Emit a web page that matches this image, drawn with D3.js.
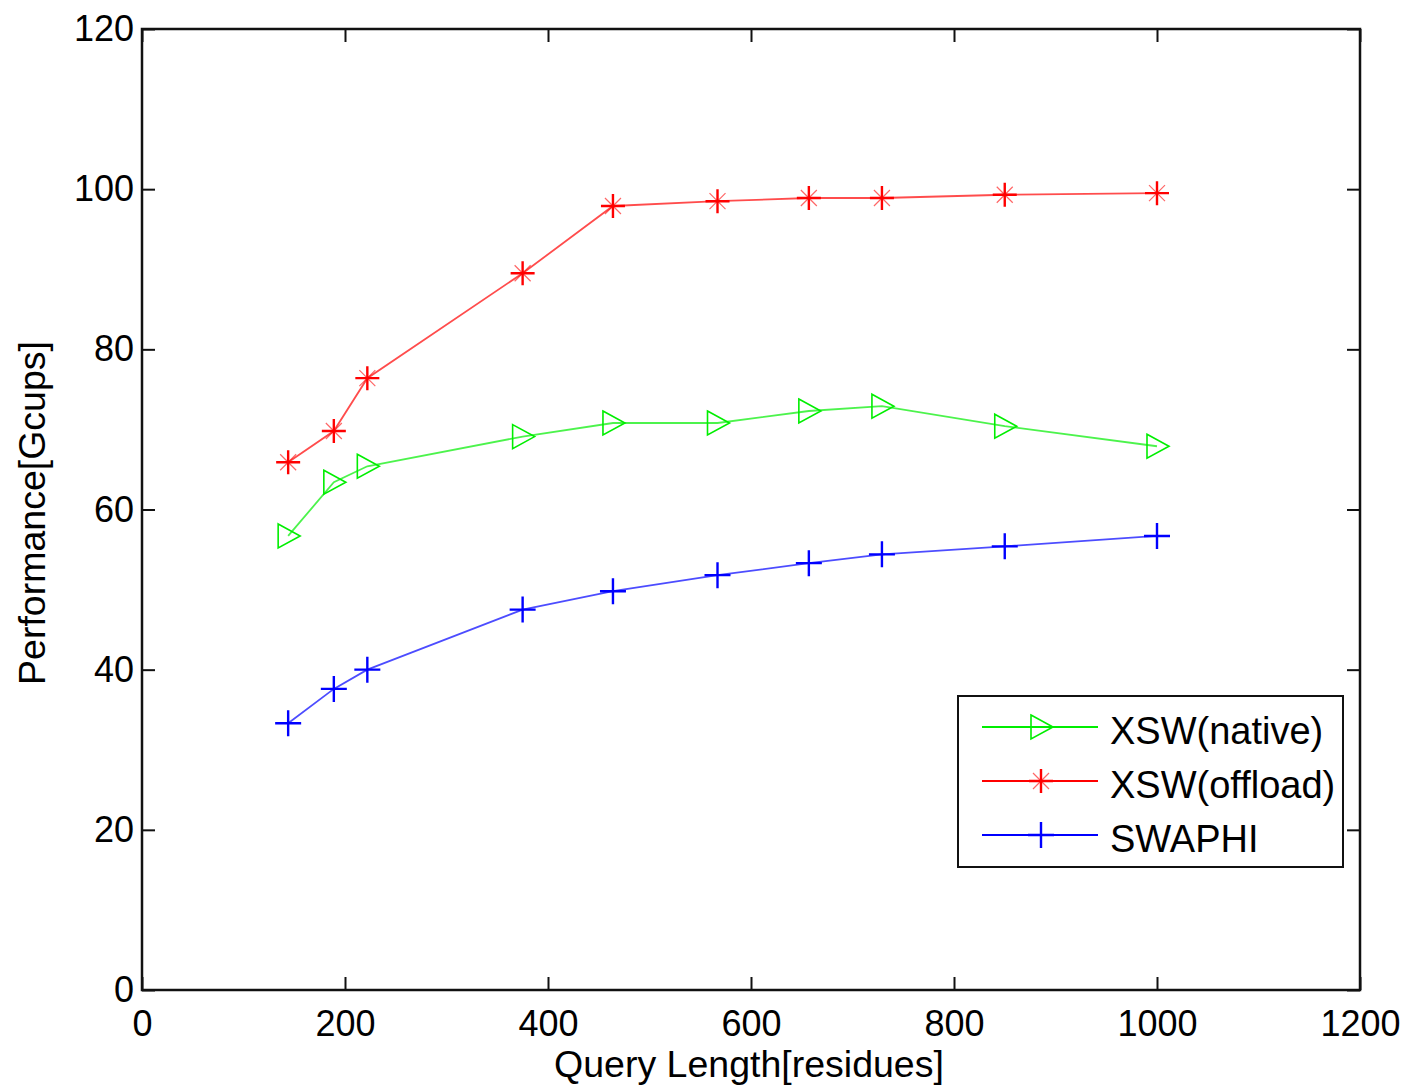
<!DOCTYPE html>
<html>
<head>
<meta charset="utf-8">
<script src="https://cdn.jsdelivr.net/npm/d3@7"></script>
<style>
  html, body { margin: 0; padding: 0; background: #fff; }
  text { font-family: "Liberation Sans", Arial, sans-serif; fill: #000; }
</style>
</head>
<body>
<svg id="chart" width="1408" height="1086"></svg>
<script>
// Query lengths (residues) of the benchmark protein sequences
const queryLengths = [144, 189, 222, 375, 464, 567, 657, 729, 850, 1000];

// Performance in GCUPS
const xswNative  = [56.7, 63.4, 65.4, 69.1, 70.8, 70.8, 72.3, 72.9, 70.4, 67.9];
const xswOffload = [65.9, 69.8, 76.4, 89.5, 97.9, 98.5, 98.9, 98.9, 99.3, 99.5];
const swaphi     = [33.3, 37.6, 40.0, 47.5, 49.8, 51.8, 53.3, 54.4, 55.4, 56.7];

const xTicks = [0, 200, 400, 600, 800, 1000, 1200];
const yTicks = [0, 20, 40, 60, 80, 100, 120];

const seriesNames = ["XSW(native)", "XSW(offload)", "SWAPHI"];

const series = [
  { name: seriesNames[0], values: xswNative,  color: "#00ee00", marker: "triangle" },
  { name: seriesNames[1], values: xswOffload, color: "#ff0000", marker: "star" },
  { name: seriesNames[2], values: swaphi,     color: "#0000ff", marker: "plus" }
];

const svg = d3.select("#chart");
const plot = { left: 142, right: 1360, top: 29, bottom: 990 };

const x = d3.scaleLinear().domain([0, 1200]).range([plot.left, plot.right]);
const y = d3.scaleLinear().domain([0, 120]).range([plot.bottom, plot.top]);

const tickLen = 13;
const tickFont = 36;
const labelFont = 37.5;

// Axes: ticks point inward, mirrored on the opposite sides
const fmt = d3.format("d");
const xAxisB = d3.axisBottom(x).tickValues(xTicks).tickFormat(fmt).tickSizeInner(-tickLen).tickSizeOuter(0).tickPadding(20);
const xAxisT = d3.axisTop(x).tickValues(xTicks).tickSizeInner(-tickLen).tickSizeOuter(0).tickFormat("");
const yAxisL = d3.axisLeft(y).tickValues(yTicks).tickFormat(fmt).tickSizeInner(-tickLen).tickSizeOuter(0).tickPadding(8);
const yAxisR = d3.axisRight(y).tickValues(yTicks).tickSizeInner(-tickLen).tickSizeOuter(0).tickFormat("");

function styleAxis(g) {
  g.select(".domain").remove();
  g.selectAll(".tick line").attr("stroke", "#111").attr("stroke-width", 2);
  g.selectAll(".tick text")
    .style("font-family", '"Liberation Sans", Arial, sans-serif')
    .style("font-size", tickFont + "px")
    .attr("fill", "#000");
}

svg.append("g").attr("transform", `translate(0,${plot.bottom})`).call(xAxisB).call(styleAxis);
svg.append("g").attr("transform", `translate(0,${plot.top})`).call(xAxisT).call(styleAxis);
svg.append("g").attr("transform", `translate(${plot.left},0)`).call(yAxisL).call(styleAxis);
svg.append("g").attr("transform", `translate(${plot.right},0)`).call(yAxisR).call(styleAxis);

// Plot frame
svg.append("rect")
  .attr("x", plot.left).attr("y", plot.top)
  .attr("width", plot.right - plot.left).attr("height", plot.bottom - plot.top)
  .attr("fill", "none").attr("stroke", "#111").attr("stroke-width", 2.5);

// Axis titles
svg.append("text")
  .attr("x", 749).attr("y", 1077)
  .attr("text-anchor", "middle")
  .style("font-size", labelFont + "px")
  .text("Query Length[residues]");

svg.append("text")
  .attr("transform", `translate(45,513) rotate(-90)`)
  .attr("text-anchor", "middle")
  .style("font-size", labelFont + "px")
  .text("Performance[Gcups]");

// Marker shapes
function drawMarker(g, type, cx, cy, color) {
  if (type === "triangle") {
    const h = 12;
    g.append("path")
      .attr("d", `M${cx - 10},${cy - h} L${cx + 12},${cy} L${cx - 10},${cy + h} Z`)
      .attr("fill", "none").attr("stroke", color).attr("stroke-width", 1.6);
  } else if (type === "star") {
    const r = 12, d = 8;
    g.append("path")
      .attr("d", `M${cx - r},${cy} H${cx + r} M${cx},${cy - r} V${cy + r}`)
      .attr("stroke", color).attr("stroke-width", 2.4);
    g.append("path")
      .attr("d", `M${cx - d},${cy - d} L${cx + d},${cy + d} M${cx - d},${cy + d} L${cx + d},${cy - d}`)
      .attr("stroke", color).attr("stroke-width", 1.2).attr("stroke-opacity", 0.6);
  } else {
    const r = 13;
    g.append("path")
      .attr("d", `M${cx - r},${cy} H${cx + r} M${cx},${cy - r} V${cy + r}`)
      .attr("stroke", color).attr("stroke-width", 2.4);
  }
}

const line = d3.line().x(d => x(d[0])).y(d => y(d[1]));

series.forEach(s => {
  const pts = queryLengths.map((q, i) => [q, s.values[i]]);
  svg.append("path")
    .datum(pts)
    .attr("d", line)
    .attr("fill", "none")
    .attr("stroke", s.color)
    .attr("stroke-opacity", 0.7)
    .attr("stroke-width", 1.8);
  const mg = svg.append("g");
  pts.forEach(p => drawMarker(mg, s.marker, x(p[0]), y(p[1]), s.color));
});

// Legend
const lg = svg.append("g");
lg.append("rect")
  .attr("x", 958).attr("y", 696).attr("width", 385).attr("height", 171)
  .attr("fill", "#fff").attr("stroke", "#111").attr("stroke-width", 2);

series.forEach((s, i) => {
  const ly = 727 + i * 54;
  lg.append("line")
    .attr("x1", 982).attr("x2", 1098).attr("y1", ly).attr("y2", ly)
    .attr("stroke", s.color).attr("stroke-width", 2);
  drawMarker(lg, s.marker, 1041, ly, s.color);
  lg.append("text")
    .attr("x", 1110).attr("y", ly + 17)
    .style("font-size", "38px")
    .text(s.name);
});
</script>
</body>
</html>
